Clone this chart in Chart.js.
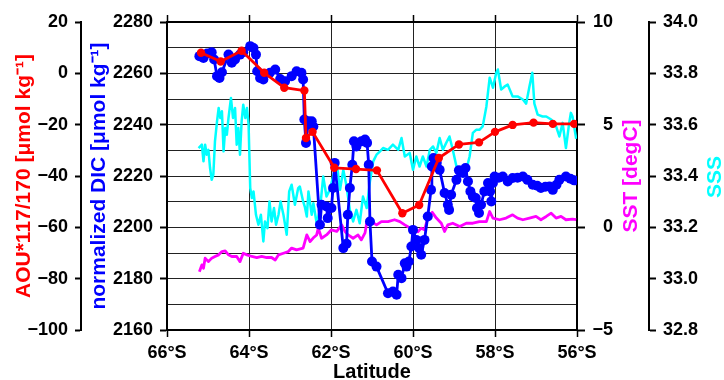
<!DOCTYPE html>
<html><head><meta charset="utf-8">
<script src="https://cdn.jsdelivr.net/npm/chart.js@4.4.1/dist/chart.umd.min.js"></script>
<style>html,body{margin:0;padding:0;background:#fff;}canvas{display:block;}</style>
</head><body>
<canvas id="c" width="724" height="380"></canvas>
<script>
// ---- data (latitude as negative degrees = south) ----
const aouLat = [-65.17,-64.69,-64.18,-63.63,-63.14,-62.65,-62.61,-62.45,-61.92,-61.39,-60.88,-60.26,-59.85,-59.37,-58.88,-58.39,-58.00,-57.57,-57.06,-56.59,-56.07];
const aouVal = [8.0,4.6,8.8,0.2,-5.6,-6.7,-25.2,-22.8,-36.8,-37.3,-37.8,-54.5,-51.3,-33.0,-27.7,-26.9,-22.8,-20.1,-19.2,-19.7,-19.7];

const dicLat = [-65.21,-65.11,-65.02,-64.91,-64.85,-64.78,-64.72,-64.66,-64.50,-64.42,-64.34,-64.22,-64.14,-63.97,-63.89,-63.83,-63.80,-63.73,-63.65,-63.49,-63.36,-63.24,-63.12,-62.96,-62.84,-62.72,-62.68,-62.65,-62.61,-62.55,-62.47,-62.43,-62.27,-62.23,-62.11,-62.08,-61.99,-61.95,-61.91,-61.70,-61.62,-61.59,-61.54,-61.48,-61.44,-61.38,-61.26,-61.17,-61.12,-61.08,-61.05,-61.00,-60.89,-60.61,-60.49,-60.40,-60.36,-60.28,-60.20,-60.16,-60.10,-60.04,-60.00,-59.92,-59.85,-59.80,-59.72,-59.64,-59.56,-59.54,-59.50,-59.42,-59.35,-59.23,-59.15,-59.12,-59.07,-58.94,-58.88,-58.78,-58.72,-58.66,-58.60,-58.54,-58.47,-58.44,-58.39,-58.34,-58.26,-58.17,-58.12,-58.09,-58.05,-58.01,-57.91,-57.81,-57.69,-57.57,-57.45,-57.32,-57.21,-57.08,-56.97,-56.88,-56.77,-56.67,-56.59,-56.50,-56.43,-56.27,-56.16,-56.07];
const dicVal = [2266.7,2266.0,2267.7,2268.2,2265.4,2258.9,2258.2,2260.4,2267.3,2264.1,2265.4,2267.3,2268.2,2270.6,2269.9,2267.3,2260.8,2258.2,2257.6,2260.2,2261.5,2257.8,2256.9,2258.9,2260.8,2260.2,2257.6,2242.0,2232.9,2241.3,2241.3,2239.3,2201.0,2208.8,2208.1,2203.6,2207.5,2215.3,2225.1,2191.9,2193.6,2204.9,2215.3,2224.4,2233.5,2231.5,2233.5,2234.2,2232.9,2224.4,2202.3,2186.7,2184.7,2174.3,2175.0,2173.7,2181.5,2180.2,2186.0,2184.7,2186.7,2192.5,2199.0,2195.1,2191.9,2189.3,2195.1,2204.2,2214.6,2223.7,2227.0,2225.1,2222.4,2213.4,2208.8,2206.8,2212.7,2218.5,2222.2,2221.2,2223.1,2217.9,2214.0,2212.0,2211.4,2207.5,2205.6,2208.8,2214.0,2217.3,2214.0,2210.1,2217.3,2219.8,2219.3,2219.8,2217.9,2219.2,2219.3,2219.8,2218.5,2216.6,2216.2,2215.3,2215.8,2215.9,2214.6,2216.6,2218.5,2219.8,2218.9,2218.3];

const sstLat = [-65.21,-65.15,-65.11,-65.07,-64.99,-64.91,-64.83,-64.74,-64.66,-64.58,-64.50,-64.42,-64.30,-64.22,-64.14,-64.05,-63.93,-63.81,-63.69,-63.57,-63.45,-63.36,-63.28,-63.16,-63.04,-62.96,-62.84,-62.68,-62.59,-62.51,-62.43,-62.35,-62.31,-62.23,-62.11,-61.99,-61.86,-61.74,-61.66,-61.58,-61.46,-61.34,-61.26,-61.17,-61.13,-61.01,-60.89,-60.77,-60.61,-60.45,-60.32,-60.20,-60.04,-59.88,-59.80,-59.72,-59.64,-59.53,-59.43,-59.31,-59.23,-59.15,-59.03,-58.86,-58.70,-58.54,-58.38,-58.21,-58.13,-58.05,-57.89,-57.73,-57.57,-57.45,-57.32,-57.16,-57.00,-56.88,-56.75,-56.63,-56.51,-56.39,-56.27,-56.11,-56.02];
const sstVal = [-2.16,-1.83,-1.99,-1.50,-1.67,-1.50,-1.42,-1.34,-1.18,-1.15,-1.34,-1.42,-1.42,-1.67,-1.26,-1.34,-1.42,-1.47,-1.42,-1.47,-1.47,-1.59,-1.34,-1.26,-1.18,-1.01,-1.10,-1.01,-0.37,-0.69,-0.51,-0.37,-0.04,-0.53,-0.37,-0.12,-0.20,0.12,-0.20,-0.37,-0.53,-0.37,-0.61,-0.27,0.20,0.28,0.12,0.28,0.28,0.37,0.28,0.12,-0.07,-0.22,-0.04,-0.12,0.45,0.73,0.45,0.20,-0.20,0.12,0.20,0.04,0.20,0.20,0.28,0.28,0.77,0.45,0.37,0.45,0.61,0.45,0.37,0.45,0.53,0.37,0.53,0.69,0.45,0.53,0.37,0.40,0.37];

const sssLat = [-65.23,-65.15,-65.11,-65.07,-65.03,-64.99,-64.95,-64.91,-64.87,-64.83,-64.78,-64.74,-64.70,-64.66,-64.62,-64.58,-64.54,-64.50,-64.44,-64.39,-64.34,-64.30,-64.26,-64.22,-64.18,-64.14,-64.09,-64.05,-64.01,-63.97,-63.93,-63.89,-63.83,-63.77,-63.71,-63.65,-63.61,-63.55,-63.50,-63.45,-63.39,-63.34,-63.28,-63.23,-63.16,-63.08,-63.02,-62.96,-62.88,-62.80,-62.76,-62.68,-62.64,-62.59,-62.55,-62.47,-62.43,-62.35,-62.27,-62.19,-62.11,-62.03,-61.95,-61.86,-61.78,-61.70,-61.62,-61.54,-61.46,-61.38,-61.30,-61.22,-61.13,-61.05,-60.97,-60.89,-60.81,-60.73,-60.61,-60.49,-60.36,-60.28,-60.20,-60.08,-60.00,-59.92,-59.84,-59.76,-59.67,-59.59,-59.51,-59.43,-59.35,-59.27,-59.19,-59.11,-59.03,-58.94,-58.86,-58.78,-58.70,-58.62,-58.54,-58.46,-58.38,-58.30,-58.21,-58.13,-58.05,-57.97,-57.93,-57.85,-57.77,-57.69,-57.57,-57.45,-57.32,-57.24,-57.16,-57.09,-57.04,-56.96,-56.84,-56.75,-56.63,-56.51,-56.43,-56.35,-56.27,-56.19,-56.15,-56.11,-56.02];
const sssVal = [33.509,33.522,33.457,33.522,33.483,33.502,33.431,33.385,33.405,33.535,33.613,33.665,33.626,33.652,33.496,33.587,33.561,33.626,33.704,33.626,33.665,33.522,33.587,33.483,33.613,33.678,33.626,33.665,33.600,33.353,33.314,33.340,33.249,33.210,33.249,33.145,33.223,33.197,33.301,33.223,33.275,33.210,33.249,33.301,33.249,33.171,33.340,33.366,33.288,33.353,33.359,33.301,33.281,33.242,33.340,33.249,33.294,33.216,33.268,33.398,33.320,33.346,33.398,33.451,33.346,33.424,33.359,33.268,33.223,33.268,33.216,33.320,33.275,33.379,33.457,33.483,33.495,33.509,33.502,33.522,33.502,33.548,33.476,33.490,33.424,33.476,33.437,33.476,33.437,33.502,33.515,33.490,33.548,33.502,33.529,33.554,33.502,33.437,33.424,33.437,33.424,33.476,33.568,33.580,33.580,33.593,33.671,33.783,33.744,33.802,33.815,33.737,33.748,33.756,33.710,33.710,33.698,33.682,33.749,33.802,33.682,33.639,33.632,33.632,33.620,33.593,33.554,33.607,33.509,33.607,33.646,33.632,33.545];

// axis settings / labels
const latRange = [-66, -56], latStep = 2;
const aouRange = [-100, 20], aouStep = 20;
const dicRange = [2160, 2280], dicGridStep = 10, dicLabelStep = 20;
const sstRange = [-5, 10], sstStep = 5;
const sssRange = [32.8, 34.0], sssStep = 0.2;
const titles = {
  x: 'Latitude',
  aou: 'AOU*117/170 [\u03bcmol kg\u207b\u00b9]',
  dic: 'normalized DIC [\u03bcmol kg\u207b\u00b9]',
  sst: 'SST [degC]',
  sss: 'SSS'
};

// ---- chart ----
const FONT = "'Liberation Sans', Arial, Helvetica, sans-serif";
const zip = (a, b) => a.map((v, i) => ({x: v, y: b[i]})).filter(p => p.y !== undefined);
const minus = v => String(v).replace('-', '\u2212');
const tickFont = {family: FONT, size: 18, weight: 'bold'};
const titleFont = {family: FONT, size: 21, weight: 'bold'};

const rightTitles = {
  id: 'rightTitles',
  afterDraw(chart) {
    const c = chart.ctx, a = chart.chartArea;
    const cy = (a.top + a.bottom) / 2;
    c.save();
    c.font = `bold 21px ${FONT}`;
    c.textAlign = 'center';
    c.textBaseline = 'middle';
    [[titles.sst, '#ff00ff', 631, cy], [titles.sss, '#00ffff', 715, cy + 1]].forEach(([t, col, x, y]) => {
      c.save(); c.translate(x, y); c.rotate(-Math.PI / 2); c.fillStyle = col; c.fillText(t, 0, 0); c.restore();
    });
    c.restore();
  }
};

new Chart(document.getElementById('c'), {
  type: 'scatter',
  data: {
    datasets: [
      {label: 'AOU', data: zip(aouLat, aouVal), yAxisID: 'yAOU', showLine: true,
       borderColor: '#ff0000', backgroundColor: '#ff0000', borderWidth: 2.8, pointRadius: 4.2, pointBorderWidth: 0, borderJoinStyle: 'round'},
      {label: 'DIC', data: zip(dicLat, dicVal), yAxisID: 'yDIC', showLine: true,
       borderColor: '#0000ff', backgroundColor: '#0000ff', borderWidth: 2.8, pointRadius: 5, pointBorderWidth: 0, borderJoinStyle: 'round'},
      {label: 'SST', data: zip(sstLat, sstVal), yAxisID: 'ySST', showLine: true,
       borderColor: '#ff00ff', backgroundColor: '#ff00ff', borderWidth: 2.8, pointRadius: 0, borderJoinStyle: 'round'},
      {label: 'SSS', data: zip(sssLat, sssVal), yAxisID: 'ySSS', showLine: true,
       borderColor: '#00ffff', backgroundColor: '#00ffff', borderWidth: 2.5, pointRadius: 0, borderJoinStyle: 'round'}
    ]
  },
  options: {
    responsive: false, animation: false, devicePixelRatio: 1, events: [],
    layout: {padding: 0},
    plugins: {legend: {display: false}, tooltip: {enabled: false}},
    scales: {
      x: {
        type: 'linear', axis: 'x', position: 'bottom', min: latRange[0], max: latRange[1],
        ticks: {stepSize: latStep, callback: v => Math.abs(v) + '\u00b0S', color: '#000', font: tickFont, padding: 5, maxRotation: 0, autoSkip: false},
        grid: {color: '#222', lineWidth: 1, tickLength: 7, tickWidth: 1.5, tickColor: '#000'},
        border: {color: '#000', width: 2},
        title: {display: true, text: titles.x, color: '#000', font: {family: FONT, size: 20, weight: 'bold', lineHeight: 0.76}, padding: 0},
        afterFit: s => { s.height = 50; }
      },
      xTop: {
        type: 'linear', axis: 'x', position: 'top', min: latRange[0], max: latRange[1],
        ticks: {display: false, stepSize: latStep},
        grid: {drawOnChartArea: false, tickLength: 7, tickWidth: 1.5, tickColor: '#000'},
        border: {color: '#000', width: 2},
        afterFit: s => { s.height = 22; }
      },
      yAOU: {
        type: 'linear', axis: 'y', position: 'left', weight: 2, min: aouRange[0], max: aouRange[1],
        ticks: {stepSize: aouStep, callback: v => minus(v), color: '#000', font: tickFont, padding: 7, autoSkip: false},
        grid: {drawOnChartArea: false, tickLength: 6, tickWidth: 2, tickColor: '#000'},
        border: {color: '#000', width: 2},
        title: {display: true, text: titles.aou, color: '#ff0000', font: titleFont, padding: {top: 11.8, bottom: 0}},
        afterFit: s => { s.width = 81; }
      },
      yDIC: {
        type: 'linear', axis: 'y', position: 'left', weight: 1, min: dicRange[0], max: dicRange[1],
        ticks: {stepSize: dicGridStep, callback: v => (v % dicLabelStep === 0 ? String(v) : ''), color: '#000', font: tickFont, padding: 7, autoSkip: false},
        grid: {color: '#222', lineWidth: 1, tickLength: 7, tickWidth: 2,
               tickColor: ctx => (ctx.tick && ctx.tick.value % dicLabelStep === 0 ? '#000' : 'rgba(0,0,0,0)')},
        border: {color: '#000', width: 2},
        title: {display: true, text: titles.dic, color: '#0000ff', font: titleFont, padding: {top: 5.6, bottom: 0}},
        afterFit: s => { s.width = 86; }
      },
      ySST: {
        type: 'linear', axis: 'y', position: 'right', weight: 1, min: sstRange[0], max: sstRange[1],
        ticks: {stepSize: sstStep, callback: v => minus(v), color: '#000', font: tickFont, padding: 8, crossAlign: 'far', autoSkip: false},
        grid: {drawOnChartArea: false, tickLength: 8, tickWidth: 2, tickColor: '#000'},
        border: {color: '#000', width: 2},
        afterFit: s => { s.width = 36; }
      },
      ySpacer: {
        type: 'linear', axis: 'y', position: 'right', weight: 2, min: 0, max: 1,
        ticks: {display: false}, grid: {display: false}, border: {display: false},
        afterFit: s => { s.width = 36; }
      },
      ySSS: {
        type: 'linear', axis: 'y', position: 'right', weight: 3, min: sssRange[0], max: sssRange[1],
        ticks: {stepSize: sssStep, callback: v => v.toFixed(1), color: '#000', font: tickFont, padding: 7, autoSkip: false},
        grid: {drawOnChartArea: false, tickLength: 7, tickWidth: 2, tickColor: '#000'},
        border: {color: '#000', width: 2},
        afterFit: s => { s.width = 75; }
      }
    }
  },
  plugins: [rightTitles]
});
</script>
</body></html>
